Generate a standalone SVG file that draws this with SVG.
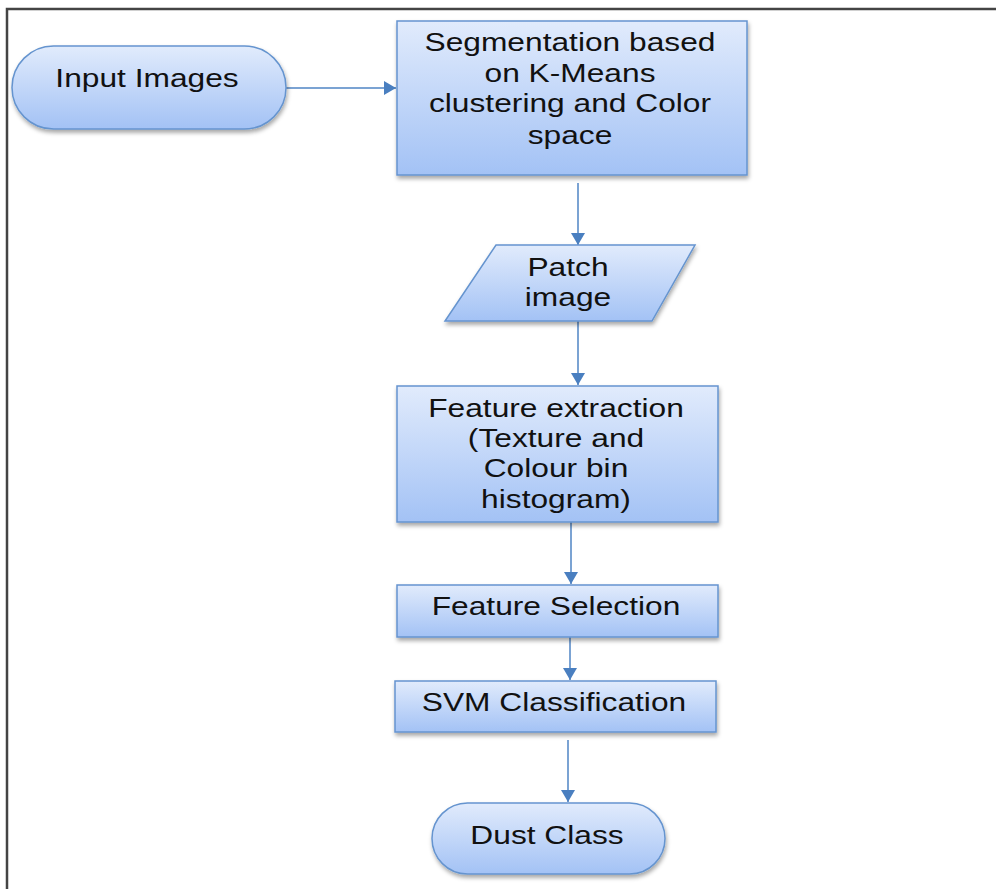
<svg xmlns="http://www.w3.org/2000/svg" width="996" height="889" viewBox="0 0 996 889">
  <defs>
    <linearGradient id="fillGrad" x1="0" y1="0" x2="0" y2="1">
      <stop offset="0" stop-color="#e1ebfc"/>
      <stop offset="1" stop-color="#a3c2f5"/>
    </linearGradient>
    <filter id="shadow" x="-10%" y="-10%" width="120%" height="130%">
      <feDropShadow dx="1" dy="3" stdDeviation="2" flood-color="#000" flood-opacity="0.35"/>
    </filter>
    <marker id="arrow" viewBox="0 0 12 14" refX="12" refY="7" markerWidth="12" markerHeight="14" markerUnits="userSpaceOnUse" orient="auto">
      <path d="M0,0 L12,7 L0,14 Z" fill="#4a7fc0"/>
    </marker>
    <style>
      .shape { fill: url(#fillGrad); stroke: #6594cf; stroke-width: 1.5; filter: url(#shadow); }
      .label { font-family: "Liberation Sans", Arial, sans-serif; font-size: 26px; fill: #111; text-anchor: middle; }
      .edge { stroke: #4f84c4; stroke-width: 1.5; fill: none; marker-end: url(#arrow); }
    </style>
  </defs>

  <rect width="996" height="889" fill="#ffffff"/>
  <!-- page frame -->
  <path d="M7,889 V9 H996" fill="none" stroke="#444" stroke-width="2.5"/>

  <g id="connectors">
    <line class="edge" x1="286" y1="88" x2="396" y2="88"/>
    <line class="edge" x1="578" y1="183" x2="578" y2="245"/>
    <line class="edge" x1="578" y1="321" x2="578" y2="385"/>
    <line class="edge" x1="571" y1="522" x2="571" y2="584"/>
    <line class="edge" x1="570" y1="637" x2="570" y2="680"/>
    <line class="edge" x1="568" y1="740" x2="568" y2="802"/>
  </g>

  <!-- labels use a horizontally widened face: each block is centred at its own x -->
  <g id="input-images">
    <rect class="shape" x="12" y="46" width="274" height="83" rx="41.5"/>
    <g transform="translate(147 0) scale(1.22 1)">
      <text class="label" x="0" y="87">Input Images</text>
    </g>
  </g>

  <g id="segmentation">
    <rect class="shape" x="397" y="21" width="350" height="154"/>
    <g transform="translate(570 0) scale(1.22 1)">
      <text class="label" x="0" y="51">Segmentation based</text>
      <text class="label" x="0" y="82">on K-Means</text>
      <text class="label" x="0" y="112">clustering and Color</text>
      <text class="label" x="0" y="144">space</text>
    </g>
  </g>

  <g id="patch-image">
    <polygon class="shape" points="496,245 695,245 652,321 445,321"/>
    <g transform="translate(568 0) scale(1.22 1)">
      <text class="label" x="0" y="276">Patch</text>
      <text class="label" x="0" y="306">image</text>
    </g>
  </g>

  <g id="feature-extraction">
    <rect class="shape" x="397" y="386" width="321" height="136"/>
    <g transform="translate(556 0) scale(1.22 1)">
      <text class="label" x="0" y="417">Feature extraction</text>
      <text class="label" x="0" y="447">(Texture and</text>
      <text class="label" x="0" y="477">Colour bin</text>
      <text class="label" x="0" y="508">histogram)</text>
    </g>
  </g>

  <g id="feature-selection">
    <rect class="shape" x="397" y="585" width="321" height="52"/>
    <g transform="translate(556 0) scale(1.22 1)">
      <text class="label" x="0" y="615">Feature Selection</text>
    </g>
  </g>

  <g id="svm-classification">
    <rect class="shape" x="395" y="681" width="321" height="51"/>
    <g transform="translate(554 0) scale(1.22 1)">
      <text class="label" x="0" y="711">SVM Classification</text>
    </g>
  </g>

  <g id="dust-class">
    <rect class="shape" x="432" y="803" width="233" height="71" rx="35.5"/>
    <g transform="translate(547 0) scale(1.22 1)">
      <text class="label" x="0" y="844">Dust Class</text>
    </g>
  </g>
</svg>
